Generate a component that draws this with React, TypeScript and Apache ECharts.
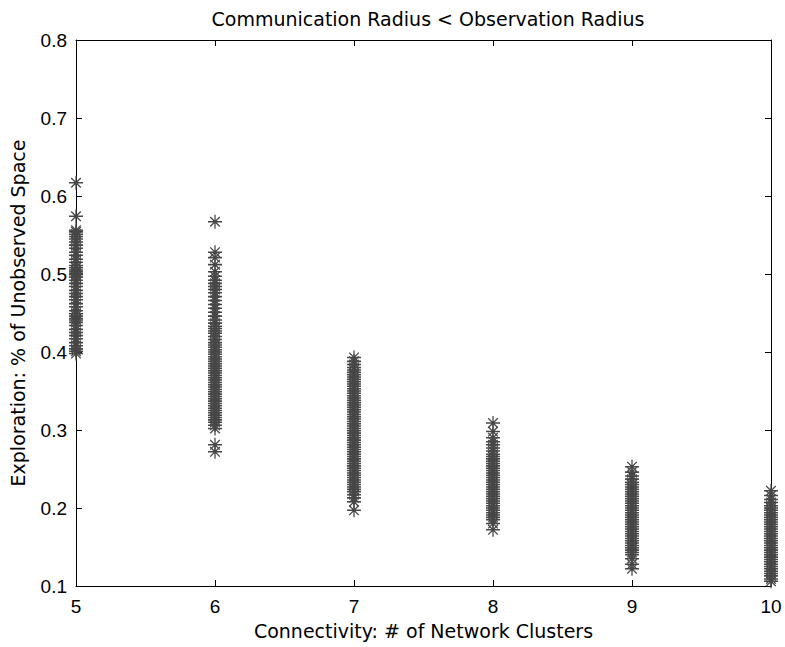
import React, { useEffect, useRef } from "react";
import * as echarts from "echarts";

const title = "Communication Radius < Observation Radius";
const xName = "Connectivity: # of Network Clusters";
const yName = "Exploration: % of Unobserved Space";
const xTicks = [5, 6, 7, 8, 9, 10];
const yTicks = [0.1, 0.2, 0.3, 0.4, 0.5, 0.6, 0.7, 0.8];

const clusters5 = [0.617, 0.574, 0.556, 0.554, 0.551, 0.548, 0.545, 0.541, 0.537, 0.533, 0.528, 0.524, 0.519, 0.515, 0.511, 0.508, 0.505, 0.503, 0.501, 0.499, 0.496, 0.492, 0.488, 0.484, 0.479, 0.475, 0.471, 0.467, 0.462, 0.458, 0.453, 0.449, 0.446, 0.443, 0.441, 0.438, 0.434, 0.429, 0.425, 0.421, 0.417, 0.412, 0.408, 0.404, 0.401, 0.398];
const clusters6 = [0.567, 0.528, 0.521, 0.512, 0.503, 0.497, 0.492, 0.488, 0.484, 0.480, 0.476, 0.471, 0.466, 0.461, 0.456, 0.451, 0.446, 0.441, 0.437, 0.433, 0.430, 0.427, 0.424, 0.420, 0.416, 0.412, 0.409, 0.406, 0.403, 0.400, 0.397, 0.394, 0.391, 0.388, 0.385, 0.382, 0.379, 0.376, 0.373, 0.370, 0.367, 0.364, 0.361, 0.358, 0.355, 0.352, 0.349, 0.346, 0.343, 0.340, 0.337, 0.334, 0.331, 0.328, 0.325, 0.322, 0.319, 0.316, 0.313, 0.310, 0.306, 0.302, 0.281, 0.272];
const clusters7 = [0.393, 0.388, 0.384, 0.380, 0.377, 0.374, 0.371, 0.368, 0.365, 0.362, 0.359, 0.356, 0.353, 0.350, 0.347, 0.344, 0.341, 0.338, 0.335, 0.332, 0.329, 0.326, 0.323, 0.320, 0.317, 0.314, 0.311, 0.308, 0.305, 0.302, 0.299, 0.296, 0.293, 0.290, 0.287, 0.284, 0.281, 0.278, 0.275, 0.272, 0.269, 0.266, 0.263, 0.260, 0.257, 0.254, 0.251, 0.248, 0.245, 0.242, 0.239, 0.236, 0.233, 0.230, 0.227, 0.224, 0.221, 0.217, 0.213, 0.208, 0.197];
const clusters8 = [0.309, 0.298, 0.290, 0.285, 0.281, 0.277, 0.273, 0.269, 0.266, 0.263, 0.260, 0.257, 0.254, 0.251, 0.248, 0.245, 0.242, 0.239, 0.236, 0.233, 0.230, 0.227, 0.224, 0.221, 0.218, 0.215, 0.212, 0.209, 0.206, 0.203, 0.200, 0.197, 0.194, 0.191, 0.188, 0.185, 0.180, 0.172];
const clusters9 = [0.253, 0.246, 0.241, 0.237, 0.233, 0.230, 0.227, 0.224, 0.221, 0.218, 0.215, 0.212, 0.209, 0.206, 0.203, 0.200, 0.197, 0.194, 0.191, 0.188, 0.185, 0.182, 0.179, 0.176, 0.173, 0.170, 0.167, 0.164, 0.161, 0.158, 0.155, 0.152, 0.149, 0.146, 0.143, 0.140, 0.135, 0.128, 0.122];
const clusters10 = [0.222, 0.216, 0.211, 0.207, 0.203, 0.200, 0.197, 0.194, 0.191, 0.188, 0.185, 0.182, 0.179, 0.176, 0.173, 0.170, 0.167, 0.164, 0.161, 0.158, 0.155, 0.152, 0.149, 0.146, 0.143, 0.140, 0.137, 0.134, 0.131, 0.128, 0.125, 0.122, 0.119, 0.116, 0.113, 0.109, 0.106];

const columns: [number, number[]][] = [
  [5, clusters5],
  [6, clusters6],
  [7, clusters7],
  [8, clusters8],
  [9, clusters9],
  [10, clusters10],
];

const STAR =
  "path://M0 8.9H20V11.1H0Z M9.1 0H10.9V20H9.1Z M2.5 3.8L3.8 2.5L17.5 16.2L16.2 17.5Z M16.2 2.5L17.5 3.8L3.8 17.5L2.5 16.2Z";

export default function App() {
  const ref = useRef<HTMLDivElement>(null);
  useEffect(() => {
    if (!ref.current) return;
    const chart = echarts.init(ref.current, undefined, { renderer: "svg" });
    const data: number[][] = [];
    columns.forEach(([x, ys]) => ys.forEach((y) => data.push([x, y])));
    const tickFont = "Liberation Sans, Arial, sans-serif";
    const nameFont = "DejaVu Sans, sans-serif";
    const axisCommon = {
      axisLine: { show: true, onZero: false, lineStyle: { color: "#000", width: 1 } },
      axisTick: { show: true, inside: true, length: 6, lineStyle: { color: "#000" } },
      splitLine: { show: false },
    };
    chart.setOption({
      animation: false,
      backgroundColor: "#fff",
      title: {
        text: title,
        left: 423,
        top: 4,
        textAlign: "center",
        textStyle: { fontFamily: nameFont, fontSize: 19, fontWeight: "normal", color: "#000" },
      },
      grid: { left: 76, right: 14, top: 40, bottom: 61, containLabel: false, outerBoundsMode: "none" },
      xAxis: [
        {
          type: "value",
          min: 5,
          max: 10,
          interval: 1,
          position: "bottom",
          ...axisCommon,
          axisLabel: { color: "#000", fontSize: 19, fontFamily: tickFont, margin: 11, formatter: (v: number) => (xTicks.includes(v) ? String(v) : "") },
          name: xName,
          nameLocation: "middle",
          nameGap: 35,
          nameTextStyle: { color: "#000", fontSize: 19, fontFamily: nameFont },
        },
        {
          type: "value",
          min: 5,
          max: 10,
          interval: 1,
          position: "top",
          ...axisCommon,
          axisLabel: { show: false },
        },
      ],
      yAxis: [
        {
          type: "value",
          min: 0.1,
          max: 0.8,
          interval: 0.1,
          position: "left",
          ...axisCommon,
          axisLabel: {
            color: "#000",
            fontSize: 19,
            fontFamily: tickFont,
            margin: 9,
            formatter: (v: number) => {
              const t = yTicks.find((k) => Math.abs(k - v) < 1e-6);
              return t !== undefined ? t.toFixed(1) : "";
            },
          },
          name: yName,
          nameLocation: "middle",
          nameGap: 49,
          nameTextStyle: { color: "#000", fontSize: 19, fontFamily: nameFont },
        },
        {
          type: "value",
          min: 0.1,
          max: 0.8,
          interval: 0.1,
          position: "right",
          ...axisCommon,
          axisLabel: { show: false },
        },
      ],
      series: [
        {
          type: "scatter",
          xAxisIndex: 0,
          yAxisIndex: 0,
          data,
          symbol: STAR,
          symbolSize: 14,
          clip: false,
          itemStyle: { color: "#474747", opacity: 1 },
          emphasis: { disabled: true },
        },
      ],
    });
    return () => chart.dispose();
  }, []);
  return <div ref={ref} style={{ position: "fixed", left: 0, top: 0, width: 785, height: 647 }} />;
}
